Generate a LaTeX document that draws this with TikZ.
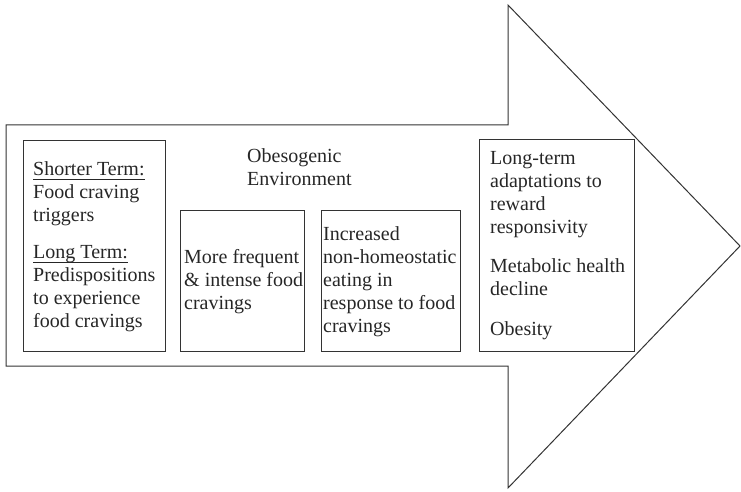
\documentclass[tikz,border=0pt]{standalone}
\usepackage{fontspec}
\setmainfont{Liberation Serif}
\usetikzlibrary{calc}
\newcommand{\termline}[1]{\setbox0\hbox{#1}\rlap{\rule[-4.5pt]{\wd0}{0.9pt}}\box0}
\tikzset{
  box/.style={draw=black!80, line width=1pt, anchor=north west, inner sep=0pt},
  txt/.style={anchor=base west, align=left, inner sep=0pt, text=black!85, font=\fontsize{20}{23}\selectfont}
}

\begin{document}
\begin{tikzpicture}[x=1pt,y=-1pt]
\useasboundingbox (0,0) rectangle (741,492);
\draw [draw=black!80, line width=1pt, line join=miter] (6,125) coordinate(s1) -- (508,125) -- (508,5) coordinate(h1) -- (740,246) coordinate(tip) -- (508,488) coordinate(h2) -- (508,366) -- (6,366) --cycle;
\node [box, minimum width=142pt, minimum height=211pt] (b1) at (23,140) {};
\node [box, minimum width=124pt, minimum height=141pt] (b2) at (180,210) {};
\node [box, minimum width=139pt, minimum height=141pt] (b3) at (321,210) {};
\node [box, minimum width=155pt, minimum height=212pt] (b4) at (479,139) {};
% base anchor sits on the last line
\node [txt] (t1) at ($(b1.north west)+(10,187)$) {\termline{Shorter Term:}\\Food craving\\triggers\\[14pt]\termline{Long Term:}\\Predispositions\\to experience\\food cravings};
\node [txt] (env) at ($(b2.north west)+(67,-25)$) {Obesogenic\\Environment};
\node [txt] (t2) at ($(b2.north west)+(4,99)$) {More frequent\\\& intense food\\cravings};
\node [txt] (t3) at ($(b3.north west)+(2,122)$) {Increased\\non-homeostatic\\eating in\\response to food\\cravings};
\node [txt] (t4) at ($(b4.north west)+(11,196)$) {Long-term\\adaptations to\\reward\\responsivity\\[16pt]Metabolic health\\decline\\[17pt]Obesity};
\end{tikzpicture}
\end{document}
